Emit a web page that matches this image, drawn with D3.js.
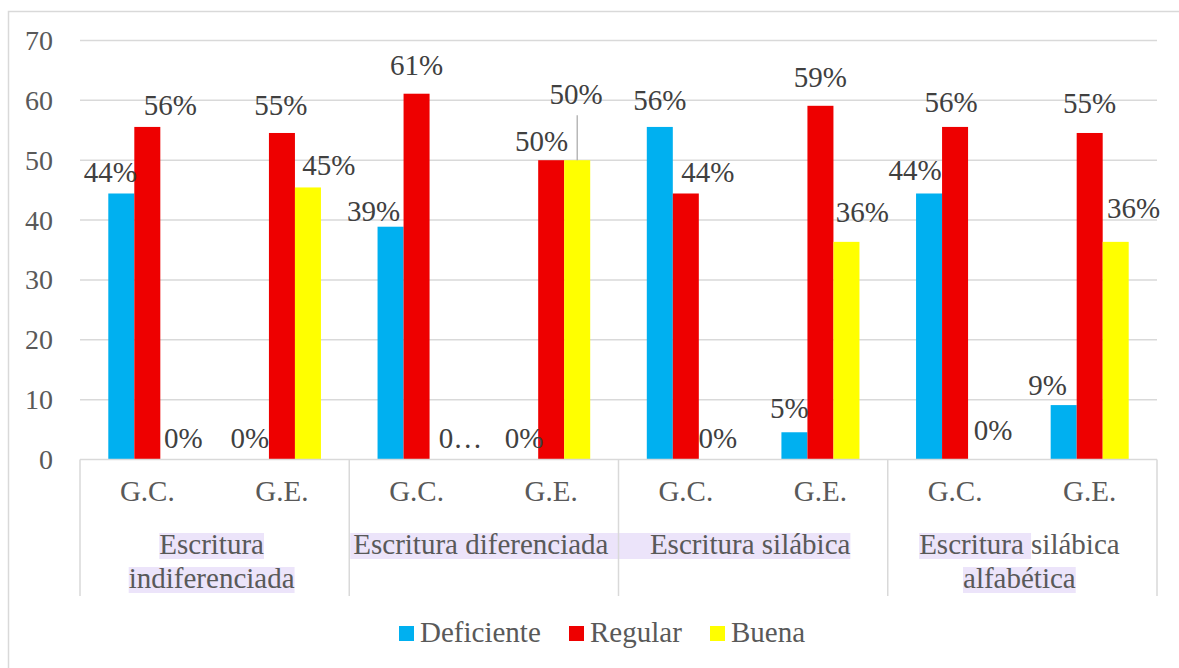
<!DOCTYPE html>
<html>
<head>
<meta charset="utf-8">
<script src="https://cdn.jsdelivr.net/npm/d3@7"></script>
<style>
  html, body { margin: 0; padding: 0; background: #fff; }
  svg { display: block; }
  svg text { font-family: 'Liberation Serif', 'Times New Roman', serif; }
</style>
</head>
<body>
<svg id="chart" width="1179" height="668"></svg>
<script>
// ---- data ----
const categories = ["Escritura indiferenciada", "Escritura diferenciada", "Escritura silábica", "Escritura silábica alfabética"];
const groups = ["G.C.", "G.E."];
const seriesNames = ["Deficiente", "Regular", "Buena"];
const deficiente = [44.44, 0, 38.89, 0, 55.56, 4.55, 44.44, 9.09];
const regular    = [55.56, 54.55, 61.11, 50, 44.44, 59.09, 55.56, 54.55];
const buena      = [0, 45.45, 0, 50, 0, 36.36, 0, 36.36];
const yTicks = [0, 10, 20, 30, 40, 50, 60, 70];
// category label lines: [highlighted part, rest]
const catLines = [
  [["Escritura", ""], ["indiferenciada", ""]],
  [["Escritura diferenciada", ""]],
  [["Escritura silábica", ""]],
  [["Escritura ", "silábica"], ["alfabética", ""]]
];
const labelOverrides = { "2-2": "0…" };

// ---- label nudges (layout, not data) ----
const nudges = [
  [[-11,1],[-6,0],[-17,6],[-1,0],[0,-5],[-5,-2],[-14,-1],[-16,2]],
  [[23,0],[-1,-6],[0,-7],[-9.5,3],[22,1],[0,-7],[-4,-3],[0,-8]],
  [[10,0],[21,0],[18,0],[-1,-44],[6,0],[16,-8],[12,-8],[18,-12]]
];
const leaderLabels = ["2-3"];
const hlExtend = [null, "both", "left", null];

const FONT = "Liberation Serif";
const colors = ["#00b0f0", "#ee0000", "#ffff00"];
const series = [deficiente, regular, buena];

const svg = d3.select("#chart");
const plotLeft = 80, plotRight = 1157, plotTop = 40.5, plotBottom = 459.5;

// border
svg.append("rect").attr("x", 8.5).attr("y", 11.5).attr("width", 1200).attr("height", 700)
  .attr("fill", "none").attr("stroke", "#d9d9d9").attr("stroke-width", 1.5);

const y = d3.scaleLinear().domain([0, 70]).range([plotBottom, plotTop]);
const subKeys = d3.range(categories.length * groups.length);
const xSub = d3.scaleBand().domain(subKeys).range([plotLeft, plotRight]).padding(0);
const xCat = d3.scaleBand().domain(d3.range(categories.length)).range([plotLeft, plotRight]).padding(0);
const xBar = d3.scaleBand().domain(d3.range(seriesNames.length)).range([0, xSub.bandwidth()])
  .paddingInner(0).paddingOuter(1.088);

// gridlines
svg.append("g").selectAll("line").data(yTicks.filter(t => t > 0)).join("line")
  .attr("x1", plotLeft).attr("x2", plotRight)
  .attr("y1", d => y(d)).attr("y2", d => y(d))
  .attr("stroke", "#d9d9d9").attr("stroke-width", 1.5);

// y tick labels
svg.append("g").selectAll("text").data(yTicks).join("text")
  .attr("x", 53).attr("y", d => y(d)).attr("dy", "0.34em")
  .attr("text-anchor", "end").attr("font-family", FONT).attr("font-size", 28).attr("fill", "#595959")
  .text(d => d);

// bars
series.forEach((vals, si) => {
  svg.append("g").selectAll("rect").data(vals).join("rect")
    .attr("x", (d, i) => xSub(i) + xBar(si))
    .attr("width", xBar.bandwidth())
    .attr("y", d => y(d))
    .attr("height", d => y(0) - y(d))
    .attr("fill", colors[si]);
});

// x axis line
svg.append("line").attr("x1", plotLeft).attr("x2", plotRight).attr("y1", plotBottom).attr("y2", plotBottom)
  .attr("stroke", "#d9d9d9").attr("stroke-width", 1.5);
const seps = d3.range(categories.length + 1).map(i => i < categories.length ? xCat(i) : plotRight);

// data labels
series.forEach((vals, si) => {
  const g = svg.append("g");
  vals.forEach((v, i) => {
    const key = si + "-" + i;
    const cx = xSub(i) + xBar(si) + xBar.bandwidth() / 2;
    const n = nudges[si][i];
    const bx = cx + n[0], by = y(v) - 12 + n[1];
    const txt = labelOverrides[key] || (Math.round(v) + "%");
    if (leaderLabels.includes(key)) {
      g.append("line").attr("x1", cx).attr("x2", cx).attr("y1", by + 11).attr("y2", y(v))
        .attr("stroke", "#a6a6a6").attr("stroke-width", 1.2);
    }
    g.append("text").attr("x", bx).attr("y", by).attr("text-anchor", "middle")
      .attr("font-family", FONT).attr("font-size", 29).attr("fill", "#404040").text(txt);
  });
});

// inner group labels
svg.append("g").selectAll("text").data(subKeys).join("text")
  .attr("x", d => xSub(d) + xSub.bandwidth() / 2).attr("y", 501)
  .attr("text-anchor", "middle").attr("font-family", FONT).attr("font-size", 29).attr("fill", "#595959")
  .text(d => groups[d % groups.length]);

// outer category labels with highlight
const catG = svg.append("g");
catLines.forEach((lines, ci) => {
  const cx = xCat(ci) + xCat.bandwidth() / 2 - 3;
  lines.forEach((parts, li) => {
    const baseline = 554 + li * 34;
    const hlLayer = catG.append("g");
    const t = catG.append("text").attr("y", baseline).attr("font-family", FONT).attr("font-size", 29).attr("fill", "#595959");
    const s1 = t.append("tspan").text(parts[0]);
    if (parts[1]) t.append("tspan").text(parts[1]);
    const total = t.node().getComputedTextLength();
    const x0 = cx - total / 2;
    t.attr("x", x0);
    const hw = s1.node().getComputedTextLength();
    let hx0 = x0, hx1 = x0 + hw;
    if (hlExtend[ci] === "both") { hx0 = xCat(ci) + 1; hx1 = xCat(ci) + xCat.bandwidth(); }
    if (hlExtend[ci] === "left") { hx0 = xCat(ci); }
    hlLayer.append("rect").attr("x", hx0).attr("y", baseline - 21).attr("width", hx1 - hx0).attr("height", 26)
      .attr("fill", "#ece4fa");
  });
});
// category separators (over highlights)
svg.append("g").selectAll("line").data(seps).join("line")
  .attr("x1", d => d).attr("x2", d => d).attr("y1", plotBottom).attr("y2", 596)
  .attr("stroke", "#d9d9d9").attr("stroke-width", 1.5);

// legend
const legendItems = [{x: 399, name: seriesNames[0]}, {x: 569, name: seriesNames[1]}, {x: 710, name: seriesNames[2]}];
const lg = svg.append("g");
legendItems.forEach((d, i) => {
  lg.append("rect").attr("x", d.x).attr("y", 626).attr("width", 15).attr("height", 15).attr("fill", colors[i]);
  lg.append("text").attr("x", d.x + 21).attr("y", 642).attr("font-family", FONT).attr("font-size", 29).attr("fill", "#595959").text(d.name);
});
</script>
</body>
</html>
